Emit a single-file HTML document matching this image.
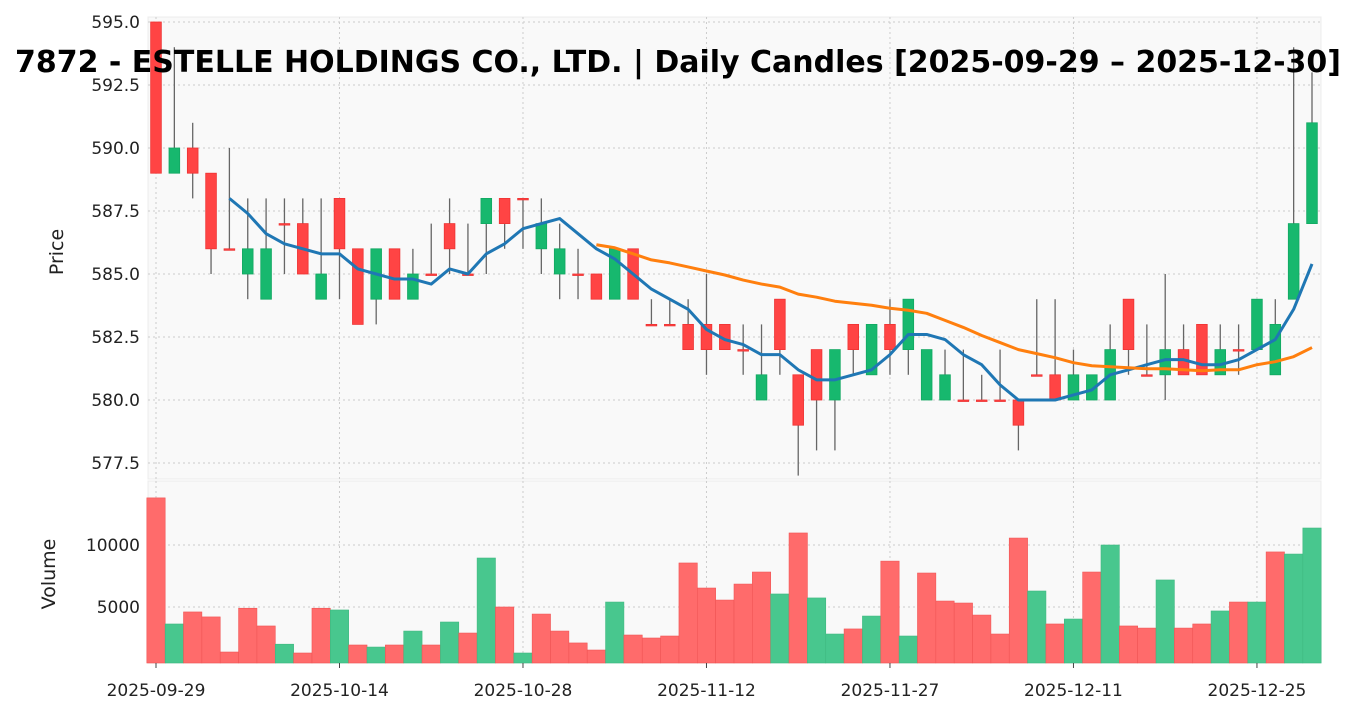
<!DOCTYPE html>
<html><head><meta charset="utf-8"><style>
body{margin:0;background:#fff;font-family:"Liberation Sans","DejaVu Sans",sans-serif}
svg text{font-family:"DejaVu Sans","Liberation Sans",sans-serif}
</style></head><body>
<svg id="c" width="1356" height="715" viewBox="0 0 1356 715" xmlns="http://www.w3.org/2000/svg">
<rect x="148" y="17" width="1173" height="462" fill="#f9f9f9" stroke="#ececec"/>
<rect x="148" y="481" width="1173" height="182" fill="#f9f9f9" stroke="#ececec"/>
<g id="grid"></g><g id="vol"></g><g id="cand"></g><g id="ma"></g><g id="axes"></g>
<text x="678" y="72" text-anchor="middle" font-size="30" font-weight="bold" fill="#000" textLength="1326" lengthAdjust="spacingAndGlyphs">7872 - ESTELLE HOLDINGS CO., LTD. | Daily Candles [2025-09-29 – 2025-12-30]</text>
<text transform="translate(63,252) rotate(-90)" text-anchor="middle" font-size="19" fill="#222">Price</text>
<text transform="translate(55,574) rotate(-90)" text-anchor="middle" font-size="19" fill="#222">Volume</text>
</svg>
<script>
const opens =[595,589,590,589,586,585,584,587,587,584,588,586,584,586,584,585,587,585,587,588,588,586,585,585,585,584,586,583,583,583,583,583,582,580,584,581,582,580,583,581,583,582,580,580,580,580,580,580,581,581,580,580,580,584,581,581,582,583,581,582,582,581,584,587];
const highs =[595,594,591,589,590,588,588,588,588,588,588,586,586,586,586,587,588,587,588,588,588,588,587,586,585,586,586,584,584,584,585,583,583,583,584,581,582,582,583,583,584,584,582,582,582,581,582,580,584,584,582,581,583,584,583,585,583,583,583,583,584,584,594,593];
const lows  =[589,589,588,585,586,584,584,585,585,584,584,583,583,584,584,585,585,585,585,586,586,585,584,584,584,584,584,583,583,582,581,582,581,580,581,577,578,578,581,581,581,581,580,580,580,580,580,578,581,580,580,580,580,581,581,580,581,581,581,581,582,581,584,587];
const closes=[589,590,589,586,586,586,586,587,585,585,586,583,586,584,585,585,586,585,588,587,588,587,586,585,584,586,584,583,583,582,582,582,582,581,582,579,580,582,582,583,582,584,582,581,580,580,580,579,581,580,581,581,582,582,581,582,581,581,582,582,584,583,587,591];
const volumes=[13800,3630,4600,4200,1370,4900,3470,2000,1290,4900,4760,1935,1770,1935,3060,1935,3790,2900,8950,5000,1290,4430,3060,2100,1530,5400,2740,2500,2660,8550,6530,5560,6850,7820,6050,10970,5730,2820,3230,4270,8700,2660,7740,5480,5320,4350,2820,10560,6290,3630,4030,7820,10000,3470,3300,7180,3300,3630,4680,5400,5400,9440,9270,11370];
const dateLabels=["2025-09-29","2025-10-14","2025-10-28","2025-11-12","2025-11-27","2025-12-11","2025-12-25"];
const dateIdx=[0,10,20,30,40,50,60];
const priceTicks=[577.5,580,582.5,585,587.5,590,592.5,595];
const volTicks=[5000,10000];

const NS="http://www.w3.org/2000/svg";
const X=i=>156+i*(1312-156)/63;
const YP=v=>22+(595-v)*25.2;
const YV=v=>669-v*0.0124;
function mk(tag,attrs,parent){const e=document.createElementNS(NS,tag);for(const k in attrs)e.setAttribute(k,attrs[k]);document.getElementById(parent).appendChild(e);return e;}
priceTicks.forEach(t=>{
 const g=mk('line',{x1:148,x2:1321,y1:YP(t),y2:YP(t),stroke:'#ccc','stroke-dasharray':'2,3'},'grid');
 
 
 const l=mk('text',{x:140,y:YP(t)+6,'text-anchor':'end','font-size':'17',fill:'#222'},'axes');l.textContent=t.toFixed(1);
 
 
});
volTicks.forEach(t=>{
 const g=mk('line',{x1:148,x2:1321,y1:YV(t),y2:YV(t),stroke:'#ccc','stroke-dasharray':'2,3'},'grid');
 
 
 const l=mk('text',{x:140,y:YV(t)+6,'text-anchor':'end','font-size':'17',fill:'#222'},'axes');l.textContent=t;
 
 
});
dateIdx.forEach((d,k)=>{
 [[17,479],[481,663]].forEach(r=>{const g=mk('line',{x1:X(d),x2:X(d),y1:r[0],y2:r[1],stroke:'#ccc','stroke-dasharray':'2,3'},'grid');
 
 });
 mk('line',{x1:X(d),x2:X(d),y1:663,y2:668,stroke:'#444'},'axes');
 const l=mk('text',{x:X(d),y:696,'text-anchor':'middle','font-size':'17',fill:'#222'},'axes');l.textContent=dateLabels[k];
 
 
});
const bw=18.35*0.8;
volumes.forEach((v,i)=>{
 const up=i>0&&closes[i]>closes[i-1];
 const top=Math.max(YV(v),481);
 const r=mk('rect',{x:X(i)-9.17,y:top,width:18.35,height:663-top,fill:up?'#48c78e':'#ff6b6b',stroke:up?'#3fb880':'#f05555','stroke-width':0.6},'vol');
 
 
});
opens.forEach((o,i)=>{
 const c=closes[i],up=c>o;
 const w=mk('line',{x1:X(i),x2:X(i),y1:YP(highs[i]),y2:YP(lows[i]),stroke:'#666','stroke-width':1.3},'cand');
 
 
 const t=YP(Math.max(o,c)),h=Math.max(YP(Math.min(o,c))-t,1.5);
 const b=mk('rect',{x:X(i)-bw/2+2,y:t,width:bw-4,height:h,fill:up?'#17b86e':'#ff4444',stroke:up?'#12a862':'#ee3333','stroke-width':0.8},'cand');
 
 
});
function ma(n){const out=[];for(let i=n-1;i<closes.length;i++){let s=0;for(let j=i-n+1;j<=i;j++)s+=closes[j];out.push([i,s/n]);}return out;}
[[5,'#1f77b4','ma5-line'],[25,'#ff7f0e','ma25-line']].forEach(([n,col,name])=>{
 const p=mk('polyline',{points:ma(n).map(([i,v])=>X(i)+','+YP(v)).join(' '),fill:'none',stroke:col,'stroke-width':3,'stroke-linejoin':'round'},'ma');
 
 
});
</script>
</body></html>
